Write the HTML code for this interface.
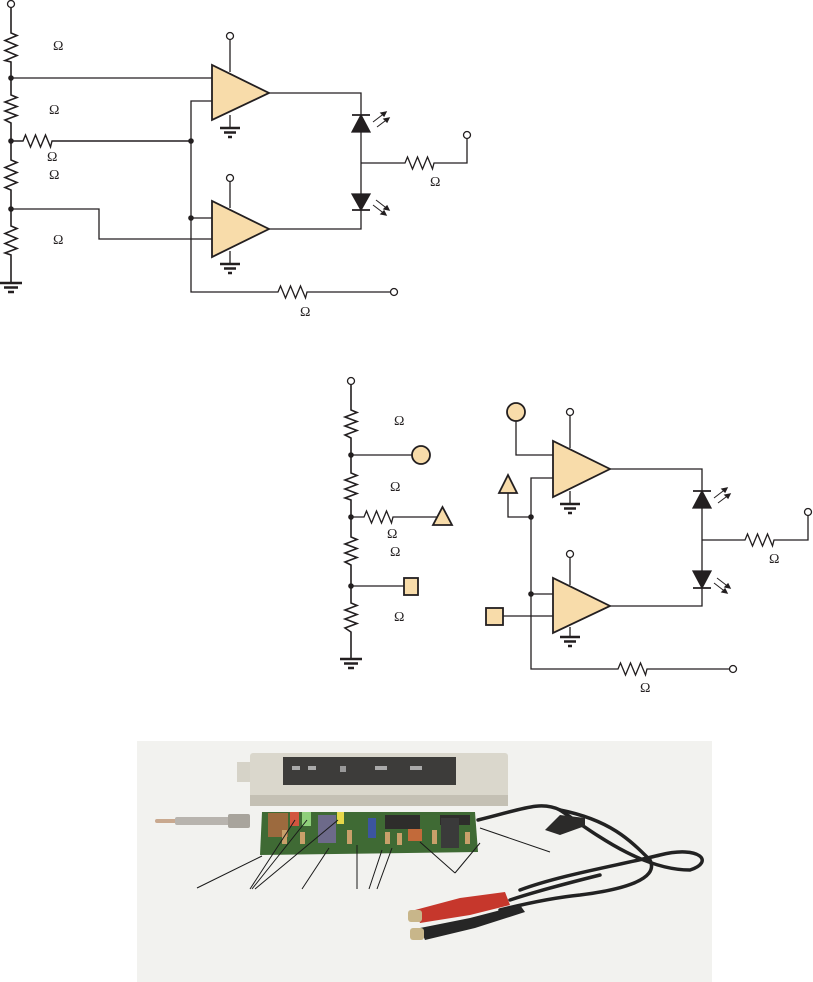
<!DOCTYPE html>
<html><head><meta charset="utf-8"><style>
html,body{margin:0;padding:0;background:#fff;}
svg{display:block;}
text{font-family:"Liberation Serif",serif;font-size:14px;fill:#231f20;}
</style></head><body>
<svg width="813" height="982" viewBox="0 0 813 982" xmlns="http://www.w3.org/2000/svg">
<g fill="none" stroke="#231f20" stroke-width="1.3">
<!-- ===== TOP CIRCUIT ===== -->
<circle cx="11" cy="4" r="3.5" fill="#fff"/>
<path d="M11,7.5 V33 L17,35.5 L5,40.5 L17,45.5 L5,50.5 L17,55.5 L5,60.5 L11,62 V95 L17,97.5 L5,102 L17,106.5 L5,111 L17,115.5 L5,120 L11,123 V160 L17,162.5 L5,167.5 L17,172.5 L5,177.5 L17,182.5 L5,187.5 L11,190 V226 L17,228.5 L5,233.5 L17,238.5 L5,243.5 L17,248.5 L5,253 L11,255 V283" stroke-width="1.6"/>
<path d="M0,283 H22 M4,287.5 H18 M8,292 H14" stroke-width="2.6"/>
<path d="M11,78 H212"/>
<path d="M11,141 H23 L25.5,135 L30.5,147 L35.5,135 L40.5,147 L45.5,135 L50.5,147 L52,141 H191" stroke-width="1.4"/>
<path d="M11,209 H99 V239 H212"/>
<path d="M212,101 H191 V292 H278 L280.5,286 L285.5,298 L290.5,286 L295.5,298 L300.5,286 L305.5,298 L307,292 H390"/>
<circle cx="394" cy="292" r="3.5" fill="#fff"/>
<path d="M191,218 H212"/>
<!-- opamp 1 -->
<path d="M230,39.5 V72 M230,115 V128"/>
<circle cx="230" cy="36" r="3.5" fill="#fff"/>
<path d="M220,128 H240 M224,132.5 H236 M228,137 H232" stroke-width="2.4"/>
<polygon points="212,65 212,120 269,93" fill="#f8dcaa" stroke-width="1.8"/>
<!-- opamp 2 -->
<path d="M230,181.5 V208 M230,251 V264"/>
<circle cx="230" cy="178" r="3.5" fill="#fff"/>
<path d="M220,264 H240 M224,268.5 H236 M228,273 H232" stroke-width="2.4"/>
<polygon points="212,201 212,257 269,229" fill="#f8dcaa" stroke-width="1.8"/>
<!-- outputs / LEDs -->
<path d="M269,93 H361 V229 H269"/>
<path d="M361,163 H405 L407.5,157 L412.5,169 L417.5,157 L422.5,169 L427.5,157 L432.5,169 L434,163 H467 V138.5"/>
<circle cx="467" cy="135" r="3.5" fill="#fff"/>
<polygon points="352,132 370,132 361,115" fill="#231f20"/>
<path d="M352,115 H370 M352,210 H370" stroke-width="1.8"/>
<polygon points="352,194 370,194 361,210" fill="#231f20"/>
<path d="M373,122 L386,112 M377,127 L389,118 M373,205 L386,215 M376,200 L389,210" stroke-width="1"/>
<path d="M386,112 l-5,1 l3,3z M389,118 l-5,1 l3,3z M386,215 l-5,-1 l3,-3z M389,210 l-5,-1 l3,-3z" fill="#231f20"/>
<circle cx="11" cy="78" r="2.8" fill="#231f20" stroke="none"/>
<circle cx="11" cy="141" r="2.8" fill="#231f20" stroke="none"/>
<circle cx="11" cy="209" r="2.8" fill="#231f20" stroke="none"/>
<circle cx="191" cy="141" r="2.8" fill="#231f20" stroke="none"/>
<circle cx="191" cy="218" r="2.8" fill="#231f20" stroke="none"/>

<!-- ===== MIDDLE CIRCUIT ===== -->
<circle cx="351" cy="381" r="3.5" fill="#fff"/>
<path d="M351,384.5 V410 L357,412.5 L345,417 L357,421.5 L345,426 L357,430.5 L345,435 L351,438 V473 L357,475.5 L345,480 L357,484.5 L345,489 L357,493.5 L345,498 L351,500 V537 L357,539.5 L345,544 L357,548.5 L345,553 L357,557.5 L345,562 L351,565 V603 L357,605.5 L345,610 L357,614.5 L345,619 L357,623.5 L345,628 L351,632 V659" stroke-width="1.6"/>
<path d="M340,659 H362 M344,663.5 H358 M348,668 H354" stroke-width="2.6"/>
<path d="M351,455 H412"/>
<circle cx="421" cy="455" r="9" fill="#f8dcaa" stroke-width="1.8"/>
<path d="M351,517 H364 L366.5,511 L371.5,523 L376.5,511 L381.5,523 L386.5,511 L391.5,523 L393,517 H437"/>
<polygon points="433,525 452,525 442.5,507" fill="#f8dcaa" stroke-width="1.8"/>
<path d="M351,586 H404"/>
<rect x="404" y="578" width="14" height="17" fill="#f8dcaa" stroke-width="1.8"/>
<circle cx="516" cy="412" r="9" fill="#f8dcaa" stroke-width="1.8"/>
<path d="M516,421 V455 H553"/>
<polygon points="499,493 517,493 508,475" fill="#f8dcaa" stroke-width="1.8"/>
<path d="M508,493 V517 H531"/>
<path d="M553,478 H531 V669 H618 L620.5,663 L625.5,675 L630.5,663 L635.5,675 L640.5,663 L645.5,675 L647,669 H729"/>
<circle cx="733" cy="669" r="3.5" fill="#fff"/>
<path d="M531,594 H553"/>
<rect x="486" y="608" width="17" height="17" fill="#f8dcaa" stroke-width="1.8"/>
<path d="M503,616 H553"/>
<path d="M570,415.5 V448 M570,491 V504"/>
<circle cx="570" cy="412" r="3.5" fill="#fff"/>
<path d="M560,504 H580 M564,508.5 H576 M568,513 H572" stroke-width="2.4"/>
<polygon points="553,441 553,497 610,469" fill="#f8dcaa" stroke-width="1.8"/>
<path d="M570,557.5 V585 M570,627 V637"/>
<circle cx="570" cy="554" r="3.5" fill="#fff"/>
<path d="M560,637 H580 M564,641.5 H576 M568,646 H572" stroke-width="2.4"/>
<polygon points="553,578 553,633 610,606" fill="#f8dcaa" stroke-width="1.8"/>
<path d="M610,469 H702 V606 H610"/>
<path d="M702,540 H745 L747.5,534 L752.5,546 L757.5,534 L762.5,546 L767.5,534 L772.5,546 L774,540 H808 V515.5"/>
<circle cx="808" cy="512" r="3.5" fill="#fff"/>
<polygon points="693,508 711,508 702,491" fill="#231f20"/>
<path d="M693,491 H711 M693,588 H711" stroke-width="1.8"/>
<polygon points="693,571 711,571 702,588" fill="#231f20"/>
<path d="M714,498 L727,488 M718,503 L730,494 M714,583 L727,593 M717,578 L730,588" stroke-width="1"/>
<path d="M727,488 l-5,1 l3,3z M730,494 l-5,1 l3,3z M727,593 l-5,-1 l3,-3z M730,588 l-5,-1 l3,-3z" fill="#231f20"/>
<circle cx="351" cy="455" r="2.8" fill="#231f20" stroke="none"/>
<circle cx="351" cy="517" r="2.8" fill="#231f20" stroke="none"/>
<circle cx="351" cy="586" r="2.8" fill="#231f20" stroke="none"/>
<circle cx="531" cy="517" r="2.8" fill="#231f20" stroke="none"/>
<circle cx="531" cy="594" r="2.8" fill="#231f20" stroke="none"/>
</g>
<g>
<text x="53" y="50">Ω</text><text x="49" y="114">Ω</text><text x="47" y="161">Ω</text>
<text x="49" y="179">Ω</text><text x="53" y="244">Ω</text><text x="430" y="186">Ω</text><text x="300" y="316">Ω</text>
<text x="394" y="425">Ω</text><text x="390" y="491">Ω</text><text x="387" y="538">Ω</text>
<text x="390" y="556">Ω</text><text x="394" y="621">Ω</text><text x="769" y="563">Ω</text><text x="640" y="692">Ω</text>
</g>

<!-- ===== PHOTO ===== -->
<rect x="137" y="741" width="575" height="241" fill="#f2f2ef"/>
<!-- probe tip -->
<rect x="155" y="819" width="80" height="4" fill="#c9a98f" rx="2"/>
<rect x="175" y="817" width="55" height="8" fill="#b8b4ae" rx="2"/>
<rect x="228" y="814" width="22" height="14" fill="#a8a49c" rx="2"/>
<!-- case -->
<rect x="237" y="762" width="16" height="20" fill="#d6d3c8"/>
<rect x="250" y="753" width="258" height="53" fill="#dad7cc" rx="3"/>
<rect x="250" y="795" width="258" height="11" fill="#c4c0b4"/>
<rect x="283" y="757" width="173" height="28" fill="#3d3c3a"/>
<rect x="292" y="766" width="8" height="4" fill="#aaa"/><rect x="308" y="766" width="8" height="4" fill="#aaa"/>
<rect x="340" y="766" width="6" height="6" fill="#999"/><rect x="375" y="766" width="12" height="4" fill="#aaa"/><rect x="410" y="766" width="12" height="4" fill="#aaa"/>
<!-- pcb -->
<polygon points="262,812 475,812 478,852 260,855" fill="#3f6a34"/>
<rect x="268" y="813" width="20" height="24" fill="#9c6a3e"/>
<rect x="290" y="812" width="9" height="14" fill="#d2553f"/>
<rect x="302" y="812" width="9" height="14" fill="#8fcf7a"/>
<rect x="318" y="815" width="18" height="28" fill="#6d6a8a"/>
<rect x="337" y="812" width="7" height="12" fill="#e6d84a"/>
<rect x="368" y="818" width="8" height="20" fill="#3c55a0"/>
<rect x="385" y="815" width="35" height="14" fill="#2e2d2b"/>
<rect x="408" y="829" width="14" height="12" fill="#c26a3a"/>
<rect x="440" y="815" width="30" height="10" fill="#2e2d2b"/>
<rect x="441" y="818" width="18" height="30" fill="#3a3a3a"/>
<g fill="#c9a06a"><rect x="282" y="830" width="5" height="14"/><rect x="347" y="830" width="5" height="14"/><rect x="385" y="832" width="5" height="12"/><rect x="397" y="833" width="5" height="12"/><rect x="432" y="830" width="5" height="14"/><rect x="465" y="832" width="5" height="12"/><rect x="300" y="832" width="5" height="12"/></g>
<!-- cable -->
<g fill="none" stroke="#222" stroke-width="3.5" stroke-linecap="round">
<path d="M478,820 C520,810 540,800 560,810 C610,820 630,840 650,860 C660,880 620,890 580,895 C550,898 520,905 500,910"/>
<path d="M560,810 C590,830 640,870 690,870 C715,862 700,845 660,855 C620,865 560,875 520,890"/>
<path d="M600,875 C580,880 540,890 510,900"/>
<path d="M470,925 L520,910"/>
</g>
<polygon points="545,830 560,815 585,818 585,826 560,835" fill="#2b2a29"/>
<!-- clips -->
<polygon points="415,910 460,898 505,892 510,905 470,915 420,923" fill="#c6372c"/>
<polygon points="420,928 470,918 520,905 525,912 475,928 425,940" fill="#262626"/>
<rect x="408" y="910" width="14" height="12" fill="#c8b68a" rx="3"/>
<rect x="410" y="928" width="14" height="12" fill="#c8b68a" rx="3"/>
<!-- leader lines -->
<g stroke="#1a1a1a" stroke-width="1" fill="none">
<path d="M197,888 L262,856 M250,889 L295,820 M252,889 L307,820 M255,889 L338,820 M302,889 L329,848 M357,889 L357,845 M369,889 L382,850 M377,889 L392,848 M455,873 L420,842 M455,873 L480,843 M550,852 L480,828"/>
</g>
</svg>
</body></html>
